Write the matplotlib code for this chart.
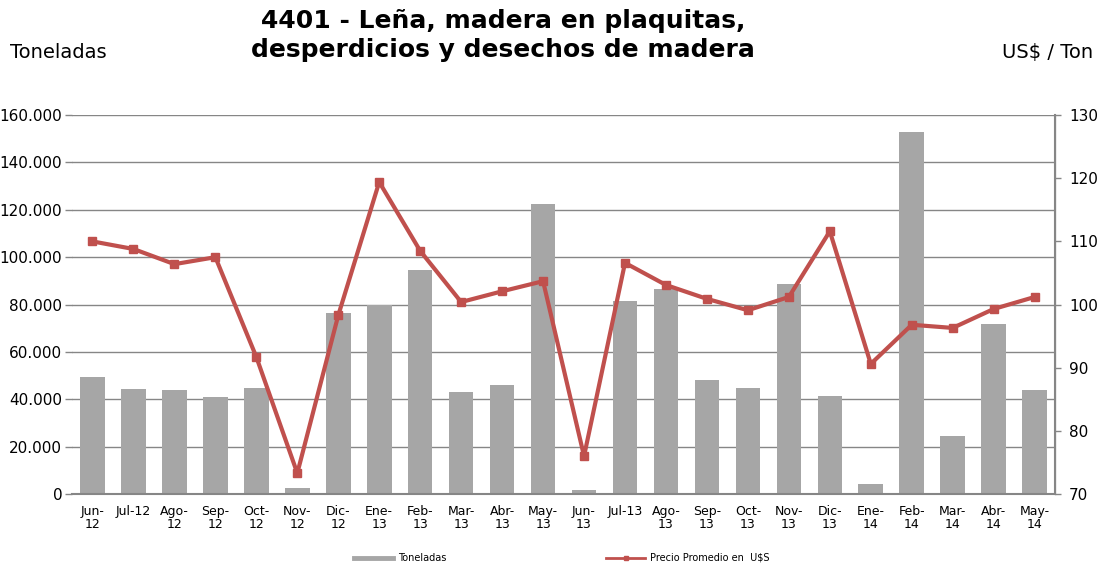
import matplotlib.pyplot as plt
from matplotlib.lines import Line2D
import numpy as np

# datos
meses = ["Jun-\n12", "Jul-12", "Ago-\n12", "Sep-\n12", "Oct-\n12", "Nov-\n12", "Dic-\n12",
         "Ene-\n13", "Feb-\n13", "Mar-\n13", "Abr-\n13", "May-\n13", "Jun-\n13", "Jul-13",
         "Ago-\n13", "Sep-\n13", "Oct-\n13", "Nov-\n13", "Dic-\n13", "Ene-\n14", "Feb-\n14",
         "Mar-\n14", "Abr-\n14", "May-\n14"]
toneladas = [49400, 44300, 43900, 40900, 44700, 2500, 76400, 79800, 94600, 43000, 46000,
             122400, 1700, 81500, 86500, 48100, 44700, 88600, 41400, 4200, 152800, 24500,
             71800, 43900]
precio = [110.0, 108.8, 106.4, 107.5, 91.7, 73.3, 98.3, 119.4, 108.5, 100.4, 102.1, 103.7,
          76.0, 106.6, 103.1, 100.9, 99.1, 101.2, 111.6, 90.6, 96.8, 96.3, 99.3, 101.2]

gris = "#a6a6a6"
rojo = "#c0504d"
eje = "#868686"

fig = plt.figure(figsize=(11.06, 5.67), dpi=100)
ax = fig.add_axes([0.0651, 0.1287, 0.8889, 0.6683])
x = np.arange(len(meses))

ax.bar(x, toneladas, width=0.6, color=gris, zorder=2)
ax.set_ylim(0, 160000)
ax.set_yticks(np.arange(0, 160001, 20000))
ax.set_yticklabels(["0"] + [f"{v:,}".replace(",", ".") for v in range(20000, 160001, 20000)],
                   fontsize=11)
ax.grid(axis="y", color=eje, linewidth=1, zorder=0)
ax.set_xlim(-0.5, len(meses) - 0.5)
ax.set_xticks(x)
ax.set_xticklabels(meses, fontsize=9, linespacing=1.0)
ax.tick_params(axis="x", length=0, pad=8)
ax.tick_params(axis="y", color=eje, length=5, width=1, pad=2)
for s in ["top", "left"]:
    ax.spines[s].set_visible(False)
ax.spines["bottom"].set_color(eje)
ax.spines["bottom"].set_linewidth(1.5)

ax2 = ax.twinx()
ax2.plot(x, precio, color=rojo, linewidth=3, marker="s", markersize=6, zorder=3)
ax2.set_ylim(70, 130)
ax2.set_yticks(range(70, 131, 10))
ax2.tick_params(axis="y", labelsize=11, color=eje, length=4, width=1, pad=6)
for s in ["top", "left", "bottom"]:
    ax2.spines[s].set_visible(False)
ax2.spines["right"].set_color(eje)
ax2.spines["right"].set_linewidth(1.5)

fig.text(0.455, 0.985, "4401 - Leña, madera en plaquitas,\ndesperdicios y desechos de madera",
         ha="center", va="top", fontsize=18, fontweight="bold", linespacing=1.3)
fig.text(0.009, 0.908, "Toneladas", ha="left", va="center", fontsize=14)
fig.text(0.988, 0.908, "US$ / Ton", ha="right", va="center", fontsize=14)

handles = [Line2D([], [], color=gris, linewidth=3.5),
           Line2D([], [], color=rojo, linewidth=2, marker="s", markersize=3)]
fig.legend(handles, ["Toneladas", "Precio Promedio en  U$S"], loc="center",
           bbox_to_anchor=(0.508, 0.016), ncol=2, frameon=False, fontsize=7,
           columnspacing=16.5, handlelength=4.0, handletextpad=0.5)

fig.savefig("out.png", dpi=100)
